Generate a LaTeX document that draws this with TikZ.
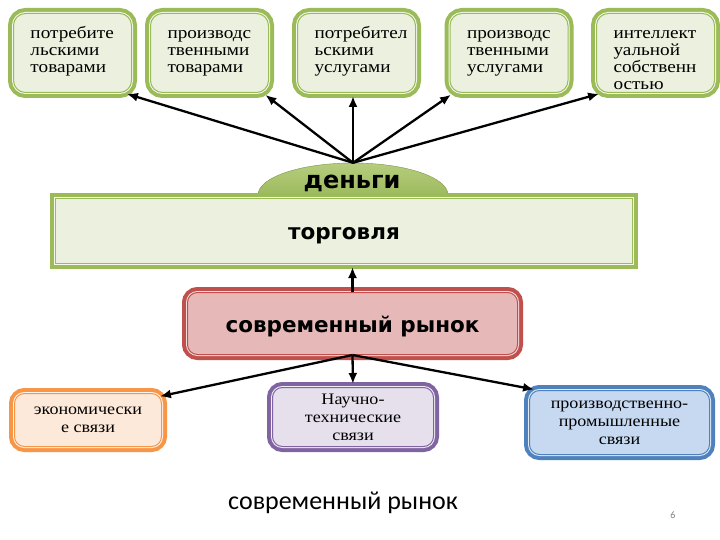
\documentclass[tikz,border=0pt]{standalone}
\usepackage{fontspec}
\setmainfont{Liberation Serif}[FakeStretch=1.13]
\newfontfamily\headfont{DejaVu Sans}
\newfontfamily\titlefont{Carlito}
\usepackage{tikz}
\usetikzlibrary{arrows.meta,positioning,shapes.geometric}

\definecolor{grnline}{HTML}{9BBB59}
\definecolor{grnfill}{HTML}{EBF1DE}
\definecolor{grnlight}{HTML}{B5CD7E}
\definecolor{grndark}{HTML}{86A83F}
\definecolor{redline}{HTML}{C0504D}
\definecolor{redfill}{HTML}{E6B9B8}
\definecolor{orgline}{HTML}{F79646}
\definecolor{orgfill}{HTML}{FDE9D9}
\definecolor{purline}{HTML}{8064A2}
\definecolor{purfill}{HTML}{E5E0EC}
\definecolor{bluline}{HTML}{4F81BD}
\definecolor{blufill}{HTML}{C6D9F1}

\newcommand{\toptext}[1]{\begin{minipage}[c][58pt][t]{84pt}\raggedright\rule{0pt}{15pt}#1\end{minipage}}

\begin{document}
\begin{tikzpicture}[x=1pt, y=-1pt,
    framed/.style 2 args={draw=#1, fill=#2, line width=1pt, inner sep=0pt,
        preaction={draw=#1, line width=11pt},
        preaction={draw=white!50!#2, line width=3pt}},
    goods/.style={framed={grnline}{grnfill}, rounded corners=12pt, minimum width=118pt, minimum height=79pt, font=\fontsize{17}{17}\selectfont},
    links/.style={rounded corners=10pt, align=center, font=\fontsize{16}{18}\selectfont},
    head/.style={font=\headfont\bfseries\fontsize{21.5}{24}\selectfont, text height=17pt, text depth=0pt},
    arr/.style={line width=2.3pt, -{Latex[length=11pt,width=9pt]}, shorten >=3pt}
]
    \fill[white] (0,0) rectangle (720,540);
    \useasboundingbox (0,0) rectangle (720,540);

    % top row
    \node[goods] (cg) at (72.5,53) {\toptext{потребите\\льскими\\товарами}};
    \node[goods] (pg) at (209.5,53) {\toptext{производс\\твенными\\товарами}};
    \node[goods] (cs) at (356.5,53) {\toptext{потребител\\ьскими\\услугами}};
    \node[goods] (ps) at (509,53) {\toptext{производс\\твенными\\услугами}};
    \node[goods] (ip) at (655.5,53) {\toptext{интеллект\\уальной\\собственн\\остью}};

    % money and trade
    \node[ellipse, top color=grnlight, bottom color=grndark, draw=grnline!80!black, minimum width=190pt, minimum height=64pt, inner sep=0pt] (money) at (353,195) {};
    \node[head, font=\headfont\bfseries\fontsize{24}{26}\selectfont] (moneytxt) at (352,180) {деньги};
    \node[framed={grnline}{grnfill}, head, minimum width=577pt, minimum height=65pt] (trade) at (344,231) {торговля};

    \node[framed={redline}{redfill}, head, rounded corners=10pt, minimum width=330pt, minimum height=62pt] (market) at (352.5,323.5) {современный рынок};

    % bottom row
    \node[framed={orgline}{orgfill}, links, minimum width=147pt, minimum height=53pt] (econ) at (88,420) {экономически\\е связи};
    \node[framed={purline}{purfill}, links, minimum width=161pt, minimum height=59pt] (scitech) at (353,417) {Научно-\\технические\\связи};
    \node[framed={bluline}{blufill}, links, minimum width=180pt, minimum height=64pt] (industry) at (619.5,422.5) {производственно-\\промышленные\\связи};

    \node[font=\titlefont\fontsize{26}{30}\selectfont] (title) at (343,503) {современный рынок};
    \node[font=\titlefont\fontsize{10}{12}\selectfont, text=gray] (pagenum) at (673,515) {6};

    \draw[arr] (money.north) -- ([xshift=-8pt]cg.south east);
    \draw[arr] (money.north) -- ([xshift=-6pt]pg.south east);
    \draw[arr] (money.north) -- (money.north |- cs.south);
    \draw[arr] (money.north) -- ([xshift=4pt]ps.south west);
    \draw[arr] (money.north) -- ([xshift=6pt]ip.south west);

    \draw[arr] (market.north) -- (market.north |- trade.south);

    \draw[arr] (market.south) -- ([xshift=-5pt,yshift=-4pt]econ.north east);
    \draw[arr] (market.south) -- (scitech.north);
    \draw[arr] (market.south) -- ([xshift=8pt]industry.north west);
\end{tikzpicture}
\end{document}
